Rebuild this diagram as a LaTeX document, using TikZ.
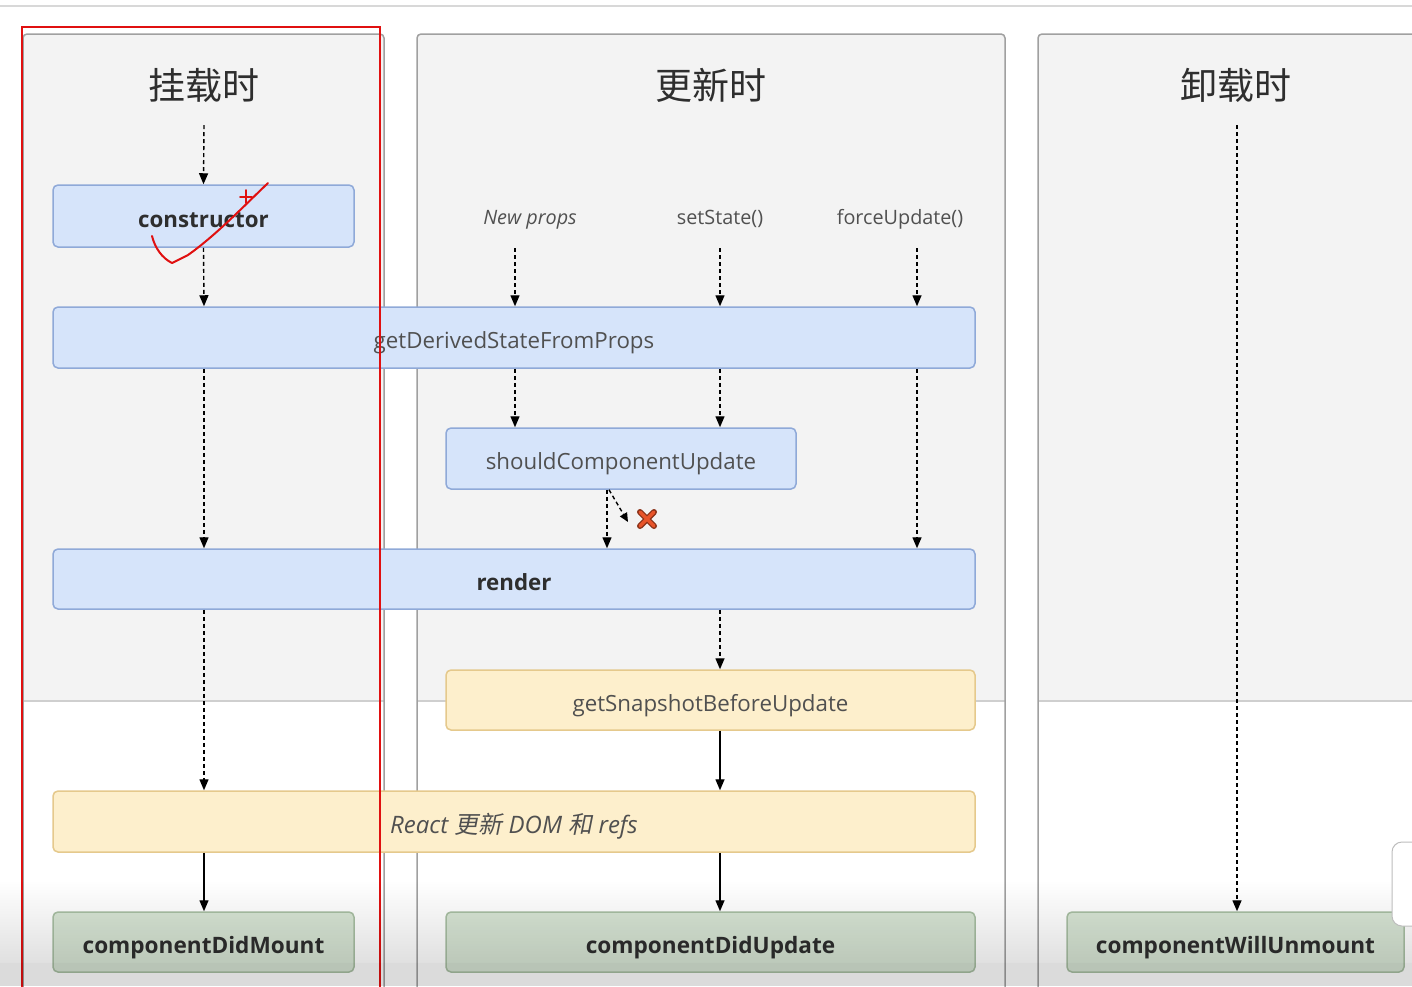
\documentclass[tikz,border=0pt]{standalone}
\usepackage{fontspec}
\setmainfont{Open Sans}
\newfontfamily\cjk{Noto Sans CJK SC}
\newfontfamily\cjkslant[FakeSlant=0.2]{Noto Sans CJK SC}
\usetikzlibrary{arrows.meta,fadings}

\definecolor{panelfill}{HTML}{F3F3F3}
\definecolor{panelline}{HTML}{A0A0A0}
\definecolor{sepline}{HTML}{CFCFCF}
\definecolor{bluefill}{HTML}{D6E4FA}
\definecolor{blueline}{HTML}{8FA9D8}
\definecolor{yellowfill}{HTML}{FDEFCC}
\definecolor{yellowline}{HTML}{E5C98C}
\definecolor{greenfill}{HTML}{D7E5D4}
\definecolor{greenline}{HTML}{A8BFA3}
\definecolor{txt}{HTML}{505050}
\definecolor{txtdark}{HTML}{2E2E2E}
\definecolor{markred}{HTML}{E01010}
\definecolor{crossred}{HTML}{E8542A}

\tikzset{
  panel/.style={draw=panelline, line width=1.5pt},
  box/.style={rounded corners=5pt, line width=1.5pt, inner sep=0pt,
    text height=22pt, text depth=0pt,
    font=\fontsize{22.3}{26}\selectfont, text=txt},
  bluebox/.style={box, fill=bluefill, draw=blueline},
  yellowbox/.style={box, fill=yellowfill, draw=yellowline},
  greenbox/.style={box, fill=greenfill, draw=greenline, text=txtdark,
    font=\fontsize{22.6}{26}\selectfont\bfseries},
  strong/.style={text=txtdark, font=\fontsize{22.3}{26}\selectfont\bfseries},
  title/.style={font=\cjk\fontsize{37}{40}\selectfont, text=txtdark},
  trigger/.style={font=\fontsize{19.8}{23}\selectfont, text=txt,
    text height=14.3pt, text depth=0pt, inner sep=0pt},
  flow/.style={line width=1.4pt, -{Triangle[length=11pt,width=9pt]}},
  dashflow/.style={flow, dash pattern=on 4pt off 3pt},
  pen/.style={markred, line width=2pt, line cap=round, line join=round},
}

\begin{document}
\begin{tikzpicture}[x=1pt,y=-1pt]
\useasboundingbox (0,0) rectangle (1412,986);
\clip (0,0) rectangle (1412,986);
\fill[white] (0,0) rectangle (1412,986);
\draw[sepline!80, line width=2pt] (0,6) -- (1412,6);

% three phase panels: grey upper part, white lower part
\foreach \xa/\xb in {23/384, 417/1005, 1038/1460}{
  \fill[panelfill] (\xa,701) [rounded corners=4pt] -- (\xa,34) -- (\xb,34) [sharp corners] -- (\xb,701) -- cycle;
  \draw[sepline, line width=1.5pt] (\xa,701) -- (\xb,701);
  \draw[panel] (\xa,1000) [rounded corners=4pt] -- (\xa,34) -- (\xb,34) [sharp corners] -- (\xb,1000);
}

% phase titles
\node[title] (tmount) at (204,85) {挂载时};
\node[title] (tupdate) at (711,85) {更新时};
\node[title] (tunmount) at (1236,85) {卸载时};

% update triggers
\node[trigger, font=\fontsize{19.8}{23}\selectfont\itshape] (np) at (530,217) {New props};
\node[trigger] (ss) at (720,217) {setState()};
\node[trigger] (fu) at (900,217) {forceUpdate()};

% lifecycle methods
\node[bluebox, strong, minimum width=301pt, minimum height=62pt] (ctor) at (203.5,216) {constructor};
\node[bluebox, minimum width=922pt, minimum height=61pt] (gdsfp) at (514,337.5) {getDerivedStateFromProps};
\node[bluebox, minimum width=350pt, minimum height=61pt] (scu) at (621,458.5) {shouldComponentUpdate};
\node[bluebox, strong, minimum width=922pt, minimum height=60pt] (render) at (514,579) {render};
\node[yellowbox, minimum width=529pt, minimum height=60pt] (gsbu) at (710.5,700) {getSnapshotBeforeUpdate};
\node[yellowbox, minimum width=922pt, minimum height=61pt, text height=23pt,
  font=\fontsize{24}{28}\selectfont\itshape] (dom) at (514,821.5)
  {React {\cjkslant 更新} DOM {\cjkslant 和} refs};
\node[greenbox, minimum width=301pt, minimum height=60pt] (cdm) at (203.5,942) {componentDidMount};
\node[greenbox, minimum width=529pt, minimum height=60pt] (cdu) at (710.5,942) {componentDidUpdate};
\node[greenbox, minimum width=337pt, minimum height=60pt] (cwu) at (1235.5,942) {componentWillUnmount};

% column guides
\coordinate (mx) at (204,0);
\coordinate (ux1) at (515,0);
\coordinate (ux2) at (720,0);
\coordinate (ux3) at (917,0);
\coordinate (ux4) at (607,0);
\coordinate (mstart) at (204,125);
\coordinate (ustart) at (1237,125);
\coordinate (npin) at (515,248);
\coordinate (ssin) at (720,248);
\coordinate (fuin) at (917,248);
\coordinate (skip) at (628,522);
\coordinate (nope) at (647,519);

% mounting
\draw[dashflow] (mstart) -- (ctor.north);
\draw[dashflow] (ctor.south) -- (gdsfp.north -| mx);
\draw[dashflow] (gdsfp.south -| mx) -- (render.north -| mx);
\draw[dashflow] (render.south -| mx) -- (dom.north -| mx);
\draw[flow] (dom.south -| mx) -- (cdm.north -| mx);

% updating
\draw[dashflow] (npin) -- (gdsfp.north -| npin);
\draw[dashflow] (ssin) -- (gdsfp.north -| ssin);
\draw[dashflow] (fuin) -- (gdsfp.north -| fuin);
\draw[dashflow] (gdsfp.south -| ux1) -- (scu.north -| ux1);
\draw[dashflow] (gdsfp.south -| ux2) -- (scu.north -| ux2);
\draw[dashflow] (gdsfp.south -| ux3) -- (render.north -| ux3);
\draw[dashflow] (scu.south -| ux4) -- (render.north -| ux4);
\draw[dashflow, -{Triangle[length=9pt,width=8pt]}] ([xshift=2pt]scu.south -| ux4) -- (skip);
\draw[dashflow] (render.south -| ux2) -- (gsbu.north -| ux2);
\draw[flow] (gsbu.south -| ux2) -- (dom.north -| ux2);
\draw[flow] (dom.south -| ux2) -- (cdu.north -| ux2);

% "no update" cross
\draw[line width=6pt, line cap=round, draw=crossred!60!black] ([shift={(-7,-7)}]nope) -- ([shift={(7,7)}]nope) ([shift={(-7,7)}]nope) -- ([shift={(7,-7)}]nope);
\draw[line width=3.5pt, line cap=round, draw=crossred] ([shift={(-7,-7)}]nope) -- ([shift={(7,7)}]nope) ([shift={(-7,7)}]nope) -- ([shift={(7,-7)}]nope);

% unmounting
\draw[dashflow] (ustart) -- (cwu.north -| ustart);

% hand annotations
\draw[markred, line width=2pt] (22,27) rectangle (380,1000);
\draw[pen] (152,236) .. controls (155,248) and (162,258) .. (172,263)
  -- (188,255) .. controls (215,236) and (243,207) .. (268,183);
\draw[pen, line width=1.8pt] (240,197) -- (252,197) (246,190) -- (246,203);

% overlay at the lower edge
\fill[black, opacity=0.12, path fading=north] (0,880) rectangle (1412,963);
\fill[black, opacity=0.14] (0,963) rectangle (1412,986);
\filldraw[fill=white, draw=panelline!70, line width=1pt, rounded corners=10pt] (1392,842) rectangle (1430,926);
\end{tikzpicture}
\end{document}
